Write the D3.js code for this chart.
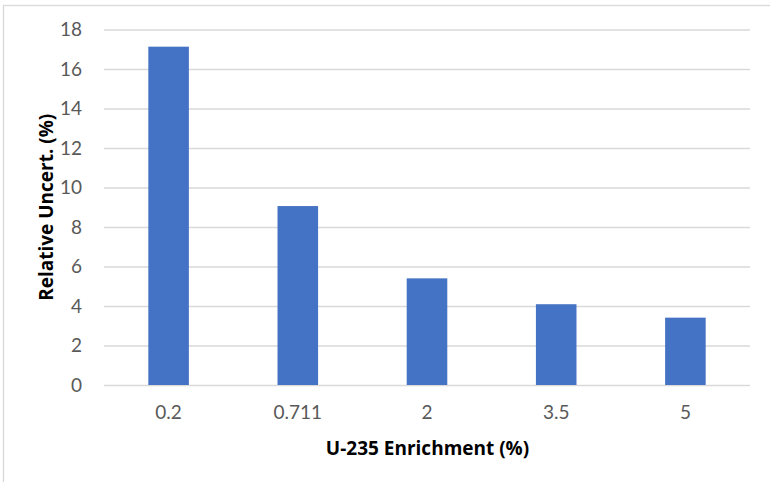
<!DOCTYPE html>
<html>
<head>
<meta charset="utf-8">
<script src="https://cdn.jsdelivr.net/npm/d3@7"></script>
<style>
  html, body { margin: 0; padding: 0; background: #fff; }
  svg { display: block; }
</style>
</head>
<body>
<div id="chart"></div>
<script>
// U-235 enrichment levels and the relative uncertainty for each
const enrichment = ["0.2", "0.711", "2", "3.5", "5"];
const relUncert = [17.13, 9.06, 5.40, 4.09, 3.41];
const yTicks = [0, 2, 4, 6, 8, 10, 12, 14, 16, 18];

const W = 770, H = 482;
const margin = { left: 104, right: 20, top: 29.5, bottom: 97 };
const tickFont = "Lato, 'Open Sans', sans-serif";
const titleFont = "'Open Sans', Lato, sans-serif";

const svg = d3.select("#chart").append("svg")
  .attr("width", W).attr("height", H);

// chart frame
svg.append("rect")
  .attr("x", 3.5).attr("y", 5.5)
  .attr("width", W + 10).attr("height", H + 10)
  .attr("fill", "none").attr("stroke", "#d9d9d9").attr("stroke-width", 1.3);

const x = d3.scaleBand()
  .domain(enrichment)
  .range([margin.left, W - margin.right])
  .paddingInner(0.686)
  .paddingOuter(0.343);

const y = d3.scaleLinear()
  .domain([0, 18])
  .range([H - margin.bottom, margin.top]);

// horizontal gridlines
svg.append("g")
  .attr("transform", `translate(${margin.left},0)`)
  .call(d3.axisLeft(y).tickValues(yTicks).tickSize(-(W - margin.right - margin.left)).tickFormat(""))
  .call(g => g.select(".domain").remove())
  .call(g => g.selectAll("line").attr("stroke", "#d9d9d9").attr("stroke-width", 1.3));

// y tick labels
svg.append("g")
  .attr("transform", `translate(${margin.left},0)`)
  .call(d3.axisLeft(y).tickValues(yTicks).tickSize(0).tickPadding(22))
  .call(g => g.select(".domain").remove())
  .call(g => g.selectAll("text")
    .attr("fill", "#595959")
    .style("font-family", tickFont)
    .style("font-size", "19px"));

// bars
svg.append("g").selectAll("rect")
  .data(enrichment.map((c, i) => ({ c, v: relUncert[i] })))
  .join("rect")
  .attr("x", d => x(d.c))
  .attr("width", x.bandwidth())
  .attr("y", d => y(d.v))
  .attr("height", d => y(0) - y(d.v))
  .attr("fill", "#4472c4");

// x tick labels
svg.append("g")
  .attr("transform", `translate(0,${H - margin.bottom})`)
  .call(d3.axisBottom(x).tickSize(0).tickPadding(21))
  .call(g => g.select(".domain").remove())
  .call(g => g.selectAll("text")
    .attr("fill", "#595959")
    .style("font-family", tickFont)
    .style("font-size", "19px"));

// axis titles
svg.append("text")
  .attr("x", (margin.left + W - margin.right) / 2 + 0.5)
  .attr("y", 455)
  .attr("text-anchor", "middle")
  .style("font-family", titleFont)
  .style("font-size", "19px")
  .style("font-weight", "bold")
  .attr("fill", "#000")
  .text("U-235 Enrichment (%)");

svg.append("text")
  .attr("transform", `translate(52.5,${(margin.top + H - margin.bottom) / 2}) rotate(-90)`)
  .attr("text-anchor", "middle")
  .style("font-family", titleFont)
  .style("font-size", "19px")
  .style("font-weight", "bold")
  .attr("fill", "#000")
  .text("Relative Uncert. (%)");
</script>
</body>
</html>
